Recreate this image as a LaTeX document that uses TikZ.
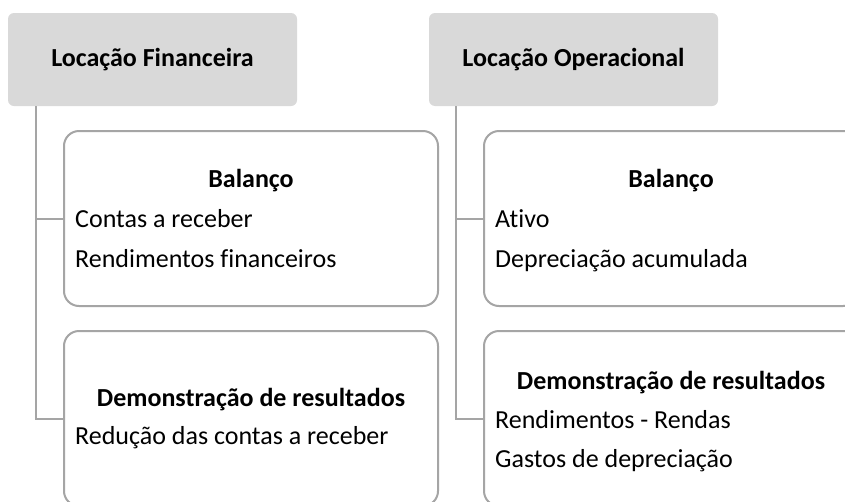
\documentclass[tikz,border=0pt]{standalone}
\usepackage{fontspec}
\setmainfont{Carlito}[Ligatures={NoCommon,NoContextual}]
\begin{document}
\begin{tikzpicture}[x=1pt,y=-1pt,
  hdr/.style={rectangle,rounded corners=6pt,fill=hdrgray,draw=none,minimum width=289pt,minimum height=93pt,inner sep=0pt},
  card/.style={rectangle,rounded corners=15pt,draw=linegray,line width=2pt,fill=white,minimum width=374pt,minimum height=175pt,inner sep=0pt},
  conn/.style={draw=linegray,line width=2pt},
  txt/.style={inner sep=0pt,font=\fontsize{26}{31}\selectfont},
  btxt/.style={inner sep=0pt,font=\fontsize{26}{31}\selectfont\bfseries}
]
\definecolor{hdrgray}{HTML}{D9D9D9}
\definecolor{linegray}{HTML}{A5A5A5}
\useasboundingbox (0,0) rectangle (845,501);
\fill[white] (0,0) rectangle (845,501);
\clip (0,0) rectangle (845,501);

% headers
\node[hdr] (h1) at (152.5,59.5) {};
\node[hdr] (h2) at (573.5,59.5) {};
\node[btxt,anchor=base] (h1t) at (152.5,66.7) {Locação Financeira};
\node[btxt,anchor=base] (h2t) at (573.5,66.7) {Locação Operacional};

% cards
\node[card] (l1) at (251,218.5) {};
\node[card] (l2) at (251,418.5) {};
\node[card] (r1) at (671,218.5) {};
\node[card] (r2) at (671,418.5) {};

% connectors
\draw[conn] ([xshift=28pt]h1.south west) |- (l2.west);
\draw[conn] ([xshift=28pt]h1.south west |- l1.west) -- (l1.west);
\draw[conn] ([xshift=27pt]h2.south west) |- (r2.west);
\draw[conn] ([xshift=27pt]h2.south west |- r1.west) -- (r1.west);

% texts left top
\node[btxt,anchor=base] (l1h) at (251,187) {Balanço};
\node[txt,anchor=base west] (l1a) at (75,227) {Contas a receber};
\node[txt,anchor=base west] (l1b) at (75,267) {Rendimentos financeiros};

% texts left bottom
\node[btxt,anchor=base] (l2h) at (251,406) {Demonstração de resultados};
\node[txt,anchor=base west] (l2a) at (75,444) {Redução das contas a receber};

% texts right top
\node[btxt,anchor=base] (r1h) at (671,187) {Balanço};
\node[txt,anchor=base west] (r1a) at (495,227) {Ativo};
\node[txt,anchor=base west] (r1b) at (495,267) {Depreciação acumulada};

% texts right bottom
\node[btxt,anchor=base] (r2h) at (671,389) {Demonstração de resultados};
\node[txt,anchor=base west] (r2a) at (495,428) {Rendimentos - Rendas};
\node[txt,anchor=base west] (r2b) at (495,467) {Gastos de depreciação};
\end{tikzpicture}
\end{document}
